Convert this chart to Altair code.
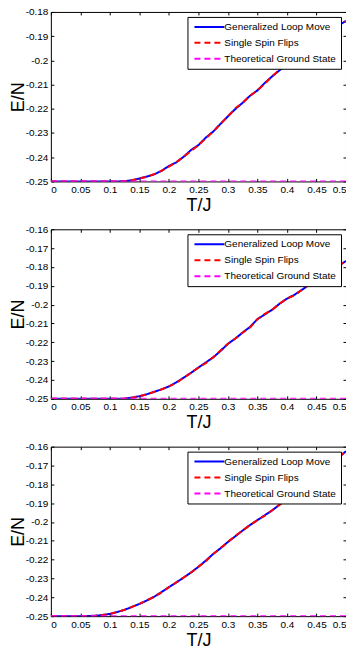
import altair as alt
import pandas as pd

T = [0.0, 0.0125, 0.025, 0.0375, 0.05, 0.0625, 0.075, 0.0875, 0.1, 0.1125,
     0.125, 0.1375, 0.15, 0.1625, 0.175, 0.1875, 0.2, 0.2125, 0.225, 0.2375,
     0.25, 0.2625, 0.275, 0.2875, 0.3, 0.3125, 0.325, 0.3375, 0.35, 0.3625,
     0.375, 0.3875, 0.4, 0.4125, 0.425, 0.4375, 0.45, 0.4625, 0.475, 0.4875, 0.5]

p1_loop = [-0.25, -0.25, -0.25, -0.25, -0.25, -0.25, -0.25, -0.25, -0.25, -0.25,
           -0.2499, -0.2495, -0.2488, -0.2480, -0.2471, -0.2456, -0.2436, -0.2421, -0.2398, -0.2370,
           -0.2350, -0.2319, -0.2294, -0.2262, -0.2231, -0.2201, -0.2175, -0.2146, -0.2124, -0.2093,
           -0.2066, -0.2041, -0.2012, -0.1990, -0.1966, -0.1943, -0.1920, -0.1898, -0.1877, -0.1856, -0.1837]
p1_single = [-0.25, -0.25, -0.25, -0.25, -0.25, -0.25, -0.25, -0.25, -0.25, -0.25,
             -0.2499, -0.2495, -0.2488, -0.2481, -0.2470, -0.2456, -0.2439, -0.2421, -0.2398, -0.2375,
             -0.2350, -0.2322, -0.2294, -0.2262, -0.2231, -0.2198, -0.2175, -0.2146, -0.2124, -0.2096,
             -0.2066, -0.2038, -0.2012, -0.1990, -0.1966, -0.1943, -0.1920, -0.1898, -0.1877, -0.1856, -0.1839]

p2_loop = [-0.25, -0.25, -0.25, -0.25, -0.25, -0.25, -0.25, -0.25, -0.25, -0.25,
           -0.2499, -0.2494, -0.2486, -0.2476, -0.2463, -0.2450, -0.2434, -0.2413, -0.2388, -0.2362,
           -0.2334, -0.2307, -0.2280, -0.2246, -0.2208, -0.2180, -0.2148, -0.2118, -0.2077, -0.2052,
           -0.2027, -0.1995, -0.1968, -0.1948, -0.1922, -0.1895, -0.1870, -0.1845, -0.1819, -0.1794, -0.1768]
p2_single = [-0.25, -0.25, -0.25, -0.25, -0.25, -0.25, -0.25, -0.25, -0.25, -0.25,
             -0.2499, -0.2494, -0.2486, -0.2476, -0.2463, -0.2450, -0.2434, -0.2416, -0.2388, -0.2362,
             -0.2334, -0.2311, -0.2280, -0.2243, -0.2208, -0.2180, -0.2148, -0.2121, -0.2077, -0.2049,
             -0.2027, -0.1995, -0.1968, -0.1951, -0.1922, -0.1895, -0.1870, -0.1845, -0.1819, -0.1794, -0.1768]

p3_loop = [-0.25, -0.25, -0.25, -0.25, -0.25, -0.2499, -0.2498, -0.2494, -0.2488, -0.2478,
           -0.2466, -0.2451, -0.2435, -0.2417, -0.2397, -0.2372, -0.2346, -0.2321, -0.2295, -0.2268,
           -0.2238, -0.2205, -0.2170, -0.2139, -0.2106, -0.2076, -0.2045, -0.2016, -0.1990, -0.1964,
           -0.1938, -0.1908, -0.1878, -0.1848, -0.1818, -0.1787, -0.1756, -0.1724, -0.1692, -0.1658, -0.1624]
p3_single = [-0.25, -0.25, -0.25, -0.25, -0.25, -0.2499, -0.2498, -0.2494, -0.2488, -0.2478,
             -0.2466, -0.2451, -0.2435, -0.2417, -0.2397, -0.2374, -0.2346, -0.2321, -0.2295, -0.2268,
             -0.2238, -0.2208, -0.2170, -0.2139, -0.2106, -0.2073, -0.2045, -0.2016, -0.1990, -0.1967,
             -0.1938, -0.1908, -0.1878, -0.1848, -0.1818, -0.1787, -0.1756, -0.1724, -0.1692, -0.1658, -0.1624]

ground_T = [0.0, 0.5]
ground_E = [-0.25, -0.25]

series_names = ["Generalized Loop Move", "Single Spin Flips", "Theoretical Ground State"]
series_colors = ["#0000ff", "#ff0000", "#ff00ff"]
series_dash = [[1, 0], [6, 4], [6, 4]]

x_ticks = [0, 0.05, 0.1, 0.15, 0.2, 0.25, 0.3, 0.35, 0.4, 0.45, 0.5]
y_ticks_1 = [-0.25, -0.24, -0.23, -0.22, -0.21, -0.2, -0.19, -0.18]
y_ticks_2 = [-0.25, -0.24, -0.23, -0.22, -0.21, -0.2, -0.19, -0.18, -0.17, -0.16]

panels = [
    (p1_loop, p1_single, -0.18, y_ticks_1),
    (p2_loop, p2_single, -0.16, y_ticks_2),
    (p3_loop, p3_single, -0.16, y_ticks_2),
]

W, H = 296, 170
LABEL_EXPR = "replace(format(datum.value, '.2~f'), '\u2212', '-')"


def make_panel(loop, single, ymax, yticks):
    df = pd.concat([
        pd.DataFrame({"T": T, "E": loop, "s": series_names[0]}),
        pd.DataFrame({"T": T, "E": single, "s": series_names[1]}),
        pd.DataFrame({"T": ground_T, "E": ground_E, "s": series_names[2]}),
    ], ignore_index=True)

    color = alt.Color("s:N", title=None,
                      scale=alt.Scale(domain=series_names, range=series_colors),
                      sort=series_names)
    dash = alt.StrokeDash("s:N", title=None,
                          scale=alt.Scale(domain=series_names, range=series_dash),
                          sort=series_names)
    xs = alt.Scale(domain=[0, 0.5], nice=False, zero=False)
    ys = alt.Scale(domain=[-0.25, ymax], nice=False, zero=False)

    ax_bottom = alt.Axis(values=x_ticks, labelExpr=LABEL_EXPR, title="T/J", orient="bottom")
    ax_left = alt.Axis(values=yticks, labelExpr=LABEL_EXPR, title="E/N", orient="left")
    ax_top = alt.Axis(values=x_ticks, labels=False, title=None, orient="top")
    ax_right = alt.Axis(values=yticks, labels=False, title=None, orient="right")

    base = alt.Chart(df).mark_line(strokeWidth=2, clip=True)
    l1 = base.transform_filter(alt.datum.s == series_names[0]).encode(
        x=alt.X("T:Q", scale=xs, axis=ax_bottom),
        y=alt.Y("E:Q", scale=ys, axis=ax_left),
        color=color, strokeDash=dash, order=alt.Order("T:Q"))
    l2 = base.transform_filter(alt.datum.s == series_names[1]).encode(
        x=alt.X("T:Q", scale=xs, axis=ax_top),
        y=alt.Y("E:Q", scale=ys, axis=ax_right),
        color=color, strokeDash=dash, order=alt.Order("T:Q"))
    l3 = base.transform_filter(alt.datum.s == series_names[2]).encode(
        x=alt.X("T:Q", scale=xs, axis=None),
        y=alt.Y("E:Q", scale=ys, axis=None),
        color=color, strokeDash=dash, order=alt.Order("T:Q"))
    return alt.layer(l1, l2, l3).resolve_axis(x="independent", y="independent").properties(width=W, height=H)


chart = alt.vconcat(*[make_panel(*p) for p in panels], spacing=8).resolve_legend(
    color="independent", strokeDash="independent"
).properties(
    padding={"left": 1, "top": -3, "right": -1, "bottom": 0}
).configure_view(
    stroke="black", strokeWidth=1
).configure_axis(
    domain=False, grid=False,
    tickSize=3, offset=-3, tickColor="black", tickWidth=1,
    labelPadding=3, labelFont="Liberation Sans", labelFontSize=10, labelColor="black",
    titleFont="Liberation Sans", titleFontSize=18, titleFontWeight="normal", titleColor="black",
).configure_axisX(
    titleY=32, titleBaseline="alphabetic"
).configure_axisY(
    titleX=-30, titleBaseline="alphabetic"
).configure_legend(
    orient="top-right", offset=5, fillColor="white", strokeColor="black", padding=5,
    labelFont="Liberation Sans", labelFontSize=10, labelColor="black", labelOffset=22,
    symbolType="M-1,0H9", symbolSize=36, symbolStrokeWidth=2, rowPadding=6, cornerRadius=0,
)

chart.save("out.html", embed_options={"renderer": "svg", "actions": False})
